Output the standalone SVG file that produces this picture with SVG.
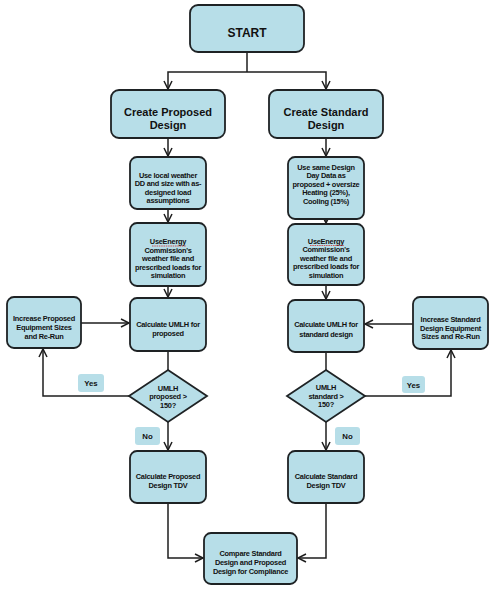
<svg xmlns="http://www.w3.org/2000/svg" width="495" height="590" viewBox="0 0 495 590">
<defs>
<marker id="arr" markerUnits="userSpaceOnUse" markerWidth="12" markerHeight="12" refX="9" refY="5" orient="auto">
<path d="M1,1 L9,5 L1,9" fill="none" stroke="#1e1e1e" stroke-width="1.5"/>
</marker>
<style>
.box{fill:#b7dee8;stroke:#1e2224;stroke-width:1.8}
.lbl{fill:#b7dee8;stroke:none}
.c{fill:none;stroke:#1e1e1e;stroke-width:1.5}
.ca{fill:none;stroke:#1e1e1e;stroke-width:1.5;marker-end:url(#arr)}
text{font-family:"Liberation Sans",Arial,sans-serif;font-weight:bold;fill:#111;text-anchor:middle}
.big{font-size:11px}
.st{font-size:12px}
.sm{font-size:7.4px;letter-spacing:-0.25px}
.lt{font-size:7.8px}
</style>
</defs>
<rect width="495" height="590" fill="#ffffff"/>
<g id="connectors">
<path class="c" d="M247,52 V72"/>
<path class="ca" d="M247,72 H168 V89"/>
<path class="ca" d="M247,72 H326 V89"/>
<path class="ca" d="M168,138 V156"/>
<path class="ca" d="M168,209 V222"/>
<path class="ca" d="M168,286 V297"/>
<path class="c" d="M168,351 V370"/>
<path class="ca" d="M168,422 V450"/>
<path class="ca" d="M168,503 V558 H203"/>
<path class="ca" d="M326,138 V156"/>
<path class="ca" d="M326,219 V223"/>
<path class="ca" d="M326,285 V299"/>
<path class="c" d="M326,352 V370"/>
<path class="ca" d="M326,422 V450"/>
<path class="ca" d="M326,503 V558 H298"/>
<path class="ca" d="M81,323 H129"/>
<path class="ca" d="M413,324 H365"/>
<path class="ca" d="M129,396 H43 V349"/>
<path class="ca" d="M365,396 H451 V350"/>
</g>
<g id="start"><rect class="box" x="190" y="5" width="114" height="47" rx="8"/><text class="st" x="247" y="37">START</text></g>
<g id="create-proposed"><rect class="box" x="111" y="90" width="114" height="48" rx="8"/><text class="big" x="168" y="116">Create Proposed</text><text class="big" x="168" y="129">Design</text></g>
<g id="create-standard"><rect class="box" x="269" y="90" width="114" height="48" rx="8"/><text class="big" x="326" y="116">Create Standard</text><text class="big" x="326" y="129">Design</text></g>
<g id="local-weather"><rect class="box" x="130" y="157" width="76" height="52" rx="7"/>
<text class="sm" x="168" y="177.5">Use local weather</text><text class="sm" x="168" y="186">DD and size with as-</text><text class="sm" x="168" y="194.5">designed load</text><text class="sm" x="168" y="203">assumptions</text></g>
<g id="same-dd"><rect class="box" x="288" y="157" width="76" height="62" rx="7"/>
<text class="sm" x="326" y="169.5">Use same Design</text><text class="sm" x="326" y="178">Day Data as</text><text class="sm" x="326" y="186.5">proposed + oversize</text><text class="sm" x="326" y="195">Heating (25%),</text><text class="sm" x="326" y="203.5">Cooling (15%)</text></g>
<g id="energy-proposed"><rect class="box" x="130" y="223" width="76" height="63" rx="7"/>
<text class="sm" x="168" y="244">UseEnergy</text><path d="M152,246 H186" stroke="#d03030" stroke-width="0.8" stroke-dasharray="1.5,0.8"/><text class="sm" x="168" y="252.5">Commission's</text><text class="sm" x="168" y="261">weather file and</text><text class="sm" x="168" y="269.5">prescribed loads for</text><text class="sm" x="168" y="278">simulation</text></g>
<g id="energy-standard"><rect class="box" x="288" y="224" width="76" height="61" rx="7"/>
<text class="sm" x="326" y="243.5">UseEnergy</text><path d="M310,245.5 H344" stroke="#d03030" stroke-width="0.8" stroke-dasharray="1.5,0.8"/><text class="sm" x="326" y="252">Commission's</text><text class="sm" x="326" y="260.5">weather file and</text><text class="sm" x="326" y="269">prescribed loads for</text><text class="sm" x="326" y="277.5">simulation</text></g>
<g id="umlh-proposed"><rect class="box" x="130" y="298" width="76" height="53" rx="7"/>
<text class="sm" x="168" y="327">Calculate UMLH for</text><text class="sm" x="168" y="336">proposed</text></g>
<g id="umlh-standard"><rect class="box" x="288" y="300" width="76" height="52" rx="7"/>
<text class="sm" x="326" y="327">Calculate UMLH for</text><text class="sm" x="326" y="337">standard design</text></g>
<g id="increase-proposed"><rect class="box" x="7" y="297" width="74" height="51" rx="7"/>
<text class="sm" x="44" y="320.5">Increase Proposed</text><text class="sm" x="44" y="329.5">Equipment Sizes</text><text class="sm" x="44" y="338.5">and Re-Run</text></g>
<g id="increase-standard"><rect class="box" x="413" y="297" width="75" height="52" rx="7"/>
<text class="sm" x="450.5" y="322">Increase Standard</text><text class="sm" x="450.5" y="330.5">Design Equipment</text><text class="sm" x="450.5" y="339">Sizes and Re-Run</text></g>
<g id="decision-proposed"><path class="box" d="M168,370 L207,396 L168,422 L129,396 Z"/>
<text class="sm" x="168" y="390.5">UMLH</text><text class="sm" x="168" y="399">proposed &gt;</text><text class="sm" x="168" y="407.5">150?</text></g>
<g id="decision-standard"><path class="box" d="M326,370 L365,396 L326,422 L287,396 Z"/>
<text class="sm" x="326" y="390">UMLH</text><text class="sm" x="326" y="398.5">standard &gt;</text><text class="sm" x="326" y="407">150?</text></g>
<g id="yes-proposed"><rect class="lbl" x="78" y="374" width="26" height="18" rx="3"/><text class="lt" x="91" y="386">Yes</text></g>
<g id="yes-standard"><rect class="lbl" x="402" y="376" width="23" height="17" rx="3"/><text class="lt" x="413.5" y="387.5">Yes</text></g>
<g id="no-proposed"><rect class="lbl" x="135" y="427" width="25" height="18" rx="3"/><text class="lt" x="147.5" y="439">No</text></g>
<g id="no-standard"><rect class="lbl" x="335" y="427" width="25" height="18" rx="3"/><text class="lt" x="347.5" y="439">No</text></g>
<g id="tdv-proposed"><rect class="box" x="130" y="451" width="76" height="52" rx="7"/>
<text class="sm" x="168" y="478.5">Calculate Proposed</text><text class="sm" x="168" y="488">Design TDV</text></g>
<g id="tdv-standard"><rect class="box" x="288" y="451" width="76" height="52" rx="7"/>
<text class="sm" x="326" y="478.5">Calculate Standard</text><text class="sm" x="326" y="488">Design TDV</text></g>
<g id="compare"><rect class="box" x="204" y="533" width="93" height="51" rx="7"/>
<text class="sm" x="250.5" y="556">Compare Standard</text><text class="sm" x="250.5" y="564.5">Design and Proposed</text><text class="sm" x="250.5" y="573.5">Design for Compliance</text></g>
</svg>
